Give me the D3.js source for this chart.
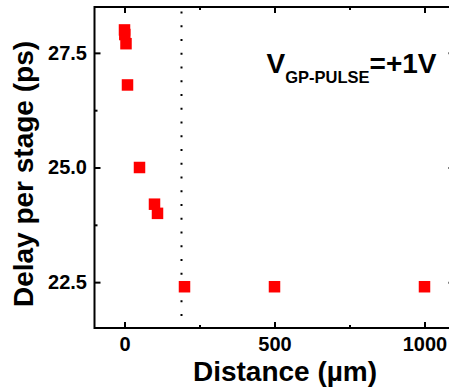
<!DOCTYPE html>
<html>
<head>
<meta charset="utf-8">
<script src="https://cdn.jsdelivr.net/npm/d3@7"></script>
<style>
  html, body { margin: 0; padding: 0; background: #fff; }
  svg { display: block; }
  text { font-family: "Liberation Sans", Arial, sans-serif; font-weight: bold; fill: #000; }
</style>
</head>
<body>
<svg id="chart" width="449" height="392"></svg>
<script>
// ---- data ----
const distance = [0, 1, 5, 10, 50, 100, 110, 200, 500, 1000];      // µm
const delay    = [28.0, 27.9, 27.7, 26.8, 25.0, 24.2, 24.0, 22.4, 22.4, 22.4]; // ps
const xMajorTicks = [0, 500, 1000];
const xMinorTicks = [250, 750];
const yMajorTicks = [22.5, 25.0, 27.5];
const yMinorTicks = [23.75, 26.25];
const refLineX = 190;           // dotted vertical marker (µm)
const refLineY = [28.4, 21.8];  // its extent (ps)
const xDomain = [-100, 1100];
const yDomain = [21.5, 28.5];

// ---- layout ----
const svg = d3.select("#chart");
const mLeft = 94.5, mRight = 454.5, mTop = 7, mBottom = 328;

const x = d3.scaleLinear().domain(xDomain).range([mLeft, mRight]);
const y = d3.scaleLinear().domain(yDomain).range([mBottom, mTop]);

function styleAxis(g) {
  g.select(".domain").remove();
  g.selectAll(".tick line").attr("stroke", "#000").attr("stroke-width", 2);
  g.selectAll("text").style("font-size", "20px").style("font-family", "'Liberation Sans', Arial, sans-serif").style("font-weight", "bold");
}

// bottom
svg.append("g").attr("transform", `translate(0,${mBottom})`)
  .call(d3.axisBottom(x).tickValues(xMajorTicks).tickSize(-6).tickPadding(9).tickFormat(d3.format("d")))
  .call(styleAxis);
svg.append("g").attr("transform", `translate(0,${mBottom})`)
  .call(d3.axisBottom(x).tickValues(xMinorTicks).tickSize(-3).tickFormat(""))
  .call(styleAxis);
// top
svg.append("g").attr("transform", `translate(0,${mTop})`)
  .call(d3.axisTop(x).tickValues(xMajorTicks).tickSize(-6).tickFormat(""))
  .call(styleAxis);
svg.append("g").attr("transform", `translate(0,${mTop})`)
  .call(d3.axisTop(x).tickValues(xMinorTicks).tickSize(-3).tickFormat(""))
  .call(styleAxis);
// left
svg.append("g").attr("transform", `translate(${mLeft},0)`)
  .call(d3.axisLeft(y).tickValues(yMajorTicks).tickSize(-6).tickPadding(7.5).tickFormat(d3.format(".1f")))
  .call(styleAxis);
svg.append("g").attr("transform", `translate(${mLeft},0)`)
  .call(d3.axisLeft(y).tickValues(yMinorTicks).tickSize(-3).tickFormat(""))
  .call(styleAxis);
// right
svg.append("g").attr("transform", `translate(${mRight},0)`)
  .call(d3.axisRight(y).tickValues(yMajorTicks).tickSize(-6).tickFormat(""))
  .call(styleAxis);
svg.append("g").attr("transform", `translate(${mRight},0)`)
  .call(d3.axisRight(y).tickValues(yMinorTicks).tickSize(-3).tickFormat(""))
  .call(styleAxis);

// frame
svg.append("rect")
  .attr("x", mLeft).attr("y", mTop)
  .attr("width", mRight - mLeft).attr("height", mBottom - mTop)
  .attr("fill", "none").attr("stroke", "#000").attr("stroke-width", 2);

// dotted reference line
svg.append("line")
  .attr("x1", x(refLineX)).attr("x2", x(refLineX))
  .attr("y1", y(refLineY[0])).attr("y2", y(refLineY[1]) + 2)
  .attr("stroke", "#000").attr("stroke-width", 2)
  .attr("stroke-dasharray", "2 11.75");

// squares
const s = 11.5;
svg.append("g").selectAll("rect")
  .data(distance.map((d, i) => ({ d, v: delay[i] })))
  .join("rect")
  .attr("x", p => x(p.d) - s / 2)
  .attr("y", p => y(p.v) - s / 2)
  .attr("width", s).attr("height", s)
  .attr("fill", "#ff0000");

// axis titles
svg.append("text")
  .attr("x", 285).attr("y", 381)
  .attr("text-anchor", "middle")
  .style("font-size", "28px")
  .text("Distance (µm)");

svg.append("text")
  .attr("transform", "translate(33,174) rotate(-90)")
  .attr("text-anchor", "middle")
  .style("font-size", "28px")
  .text("Delay per stage (ps)");

// annotation
const ann = svg.append("text").attr("x", 266.5).attr("y", 73).style("font-size", "28px");
ann.append("tspan").text("V");
ann.append("tspan").attr("dy", 10).style("font-size", "16.5px").text("GP-PULSE");
ann.append("tspan").attr("dy", -10).text("=+1V");
</script>
</body>
</html>
